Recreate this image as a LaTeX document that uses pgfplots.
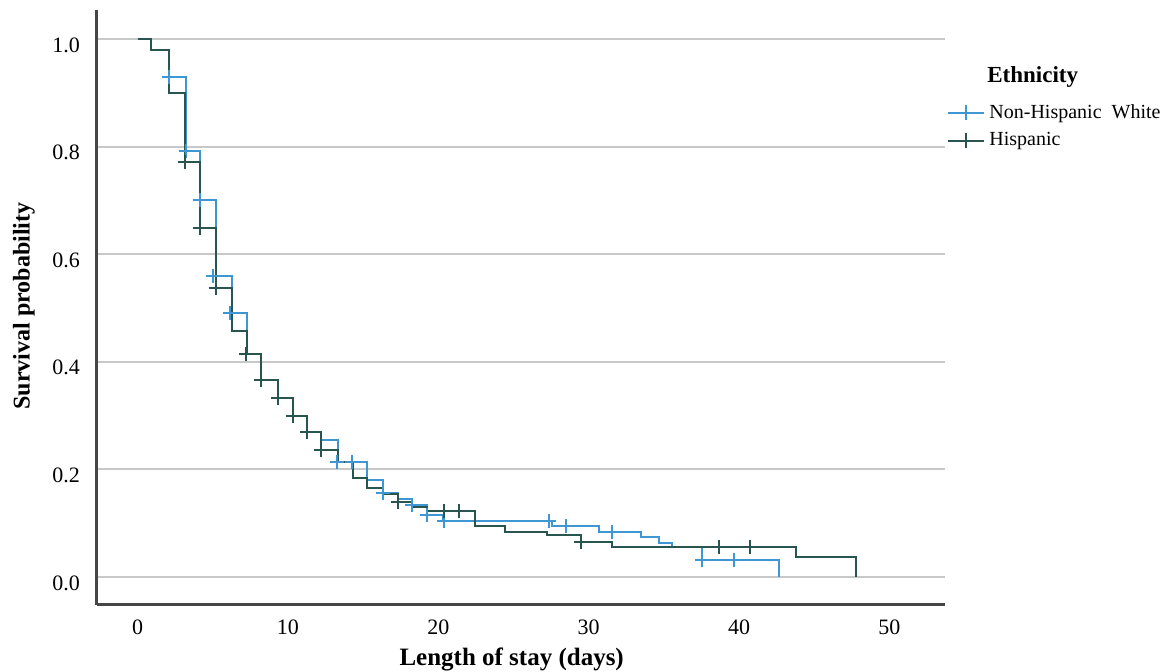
\documentclass[border=0pt]{standalone}
\usepackage{fontspec}
\setmainfont{Liberation Serif}
\usepackage{pgfplots}
\usepackage{pgfplotstable}
\pgfplotsset{compat=1.18}

\definecolor{nhw}{RGB}{62,150,210}
\definecolor{hisp}{RGB}{40,85,80}
\definecolor{gridgray}{RGB}{200,200,200}
\definecolor{spine}{RGB}{70,70,70}

% Kaplan-Meier steps (day, survival)
\pgfplotstableread{
x y
0 1.000
0.86 0.980
2.06 0.930
3.19 0.792
4.12 0.700
5.19 0.560
6.25 0.490
7.25 0.414
8.24 0.367
9.31 0.333
10.31 0.300
11.30 0.270
12.23 0.255
13.30 0.214
15.29 0.180
16.29 0.156
17.29 0.145
18.28 0.134
19.28 0.115
20.28 0.105
27.53 0.094
30.72 0.084
33.51 0.075
34.71 0.063
35.57 0.056
37.57 0.032
42.69 0.000
}\nhwsteps

\pgfplotstableread{
x y
0 1.000
0.86 0.980
2.06 0.900
3.12 0.771
4.12 0.649
5.19 0.538
6.25 0.457
7.25 0.414
8.24 0.367
9.31 0.333
10.31 0.300
11.30 0.270
12.23 0.236
13.30 0.214
14.30 0.184
15.29 0.165
16.29 0.155
17.29 0.140
18.28 0.130
19.28 0.123
22.41 0.095
24.41 0.084
27.26 0.078
29.52 0.066
31.58 0.056
43.82 0.038
47.80 0.000
}\hispsteps

% censored observations
\pgfplotstableread{
x y
2.06 0.930
3.19 0.792
4.12 0.700
4.99 0.560
6.12 0.490
13.23 0.214
14.23 0.214
16.29 0.156
18.28 0.134
19.28 0.115
20.41 0.105
27.39 0.105
28.52 0.094
31.52 0.084
37.57 0.032
39.69 0.032
}\nhwcens

\pgfplotstableread{
x y
3.12 0.771
4.12 0.649
5.19 0.538
7.18 0.414
8.24 0.367
9.31 0.333
10.31 0.300
11.30 0.270
12.23 0.236
17.29 0.140
20.41 0.123
21.40 0.123
29.52 0.066
38.70 0.056
40.70 0.056
}\hispcens

\begin{document}
\begin{tikzpicture}
\useasboundingbox (-48.5pt,-33.5pt) rectangle (534pt,302.5pt);
\begin{axis}[
    at={(0,0)}, anchor=south west,
    scale only axis,
    width=424pt, height=297.5pt,
    xmin=-2.7, xmax=53.7,
    ymin=-0.052, ymax=1.054,
    clip=false,
    axis x line*=bottom, axis y line*=left,
    axis line style={spine, line width=1.5pt},
    xtick={0,10,20,30,40,50},
    ytick={0,0.2,0.4,0.6,0.8,1.0},
    major tick length=0pt,
    ymajorgrids,
    grid style={gridgray, line width=1pt},
    /pgf/number format/assume math mode=true,
    tick label style={font=\fontsize{11}{13}\selectfont},
    yticklabel style={/pgf/number format/.cd, fixed, fixed zerofill, precision=1, /tikz/.cd, xshift=-5pt, yshift=-3pt},
    xticklabel style={yshift=-6pt, inner sep=1pt},
    xlabel={Length of stay (days)},
    ylabel={Survival probability},
    xlabel style={at={(axis description cs:0.489,-0.091)}, anchor=center, inner sep=0pt, font=\bfseries\fontsize{12.5}{14}\selectfont},
    ylabel style={at={(axis description cs:-0.0861,0.5025)}, anchor=center, font=\bfseries\fontsize{12}{14}\selectfont},
    legend style={at={(axis description cs:1.0024,0.804)}, anchor=west, draw=none, fill=none, inner sep=0pt,
        font=\fontsize{10}{12}\selectfont, row sep=1.5pt, cells={anchor=west}},
    legend image code/.code={
        \draw[#1] (0pt,0pt) -- (18pt,0pt);
        \draw[#1] (9pt,-3.75pt) -- (9pt,3.75pt);
    },
]
\addplot[const plot, nhw, line width=1pt] table {\nhwsteps};
\addlegendentry{Non-Hispanic\ \ White}
\addplot[const plot, hisp, line width=1pt] table {\hispsteps};
\addlegendentry{Hispanic}
\addplot[only marks, mark=+, mark size=3.5pt, nhw, mark options={line width=1pt}, forget plot] table {\nhwcens};
\addplot[only marks, mark=+, mark size=3.5pt, hisp, mark options={line width=1pt}, forget plot] table {\hispcens};
\node[anchor=west, inner sep=0pt, font=\bfseries\fontsize{11.5}{13}\selectfont] at (axis description cs:1.0495,0.887) {Ethnicity};
\end{axis}
\end{tikzpicture}
\end{document}
